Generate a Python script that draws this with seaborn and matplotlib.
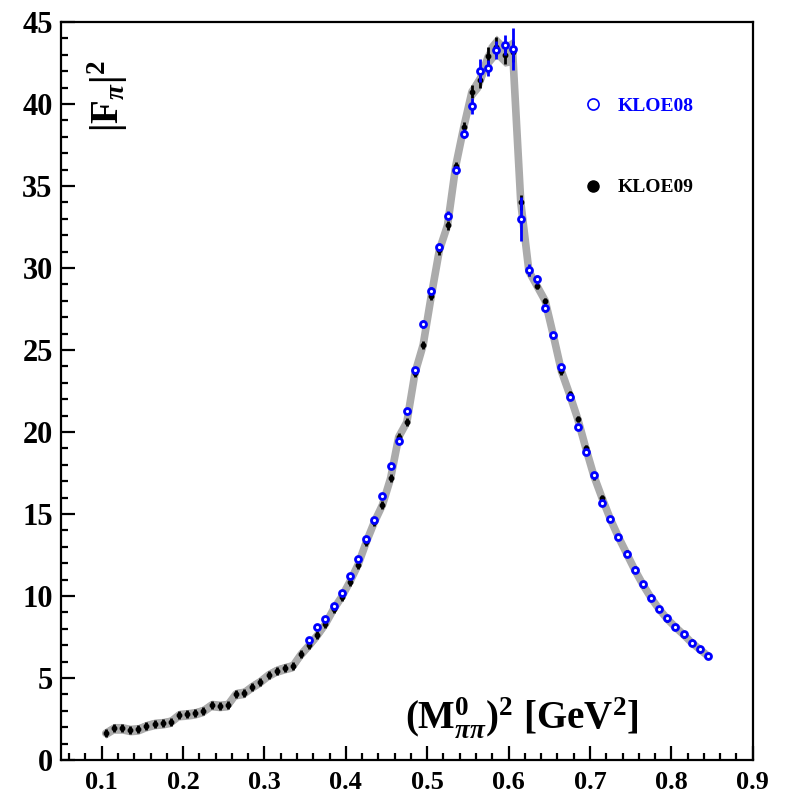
import numpy as np
import pandas as pd
import matplotlib
matplotlib.use("Agg")
import matplotlib.pyplot as plt
from matplotlib.ticker import MultipleLocator
from matplotlib.lines import Line2D
import seaborn as sns

# KLOE09 points (bin centres in GeV^2, |F_pi|^2, error)
x09 = [0.105, 0.115, 0.125, 0.135, 0.145, 0.155, 0.165, 0.175, 0.185, 0.195,
       0.205, 0.215, 0.225, 0.235, 0.245, 0.255, 0.265, 0.275, 0.285, 0.295,
       0.305, 0.315, 0.325, 0.335, 0.345, 0.355, 0.365, 0.375, 0.385, 0.395,
       0.405, 0.415, 0.425, 0.435, 0.445, 0.455, 0.465, 0.475, 0.485, 0.495,
       0.505, 0.515, 0.525, 0.535, 0.545, 0.555, 0.565, 0.575, 0.585, 0.595,
       0.605, 0.615, 0.625, 0.635, 0.645, 0.655, 0.665, 0.675, 0.685, 0.695,
       0.705, 0.715, 0.725, 0.735, 0.745, 0.755, 0.765, 0.775, 0.785, 0.795,
       0.805, 0.815, 0.825, 0.835, 0.845]
f09 = [1.63, 1.93, 1.93, 1.83, 1.87, 2.07, 2.20, 2.24, 2.34, 2.74,
       2.78, 2.85, 3.00, 3.35, 3.30, 3.35, 4.02, 4.10, 4.47, 4.78,
       5.18, 5.45, 5.60, 5.73, 6.44, 7.00, 7.60, 8.30, 9.20, 9.95,
       10.87, 11.90, 13.27, 14.50, 15.55, 17.17, 19.70, 20.60, 23.60, 25.30,
       28.30, 31.10, 32.60, 36.20, 38.60, 40.75, 41.46, 42.90, 43.50, 43.00,
       43.20, 34.00, 29.80, 28.90, 28.00, 25.90, 23.70, 22.30, 20.80, 19.00,
       17.30, 15.96, 14.70, 13.60, 12.60, 11.60, 10.70, 9.90, 9.20, 8.60,
       8.10, 7.65, 7.15, 6.75, 6.34]
e09 = [0.3] * 40 + [0.35] * 5 + [0.5, 0.6, 0.7, 0.7, 0.7,
       0.8, 0.6, 0.35] + [0.25] * 22

# KLOE08 points
x08 = [0.355, 0.365, 0.375, 0.385, 0.395, 0.405, 0.415, 0.425, 0.435, 0.445,
       0.455, 0.465, 0.475, 0.485, 0.495, 0.505, 0.515, 0.525, 0.535, 0.545,
       0.555, 0.565, 0.575, 0.585, 0.595, 0.605, 0.615, 0.625, 0.635, 0.645,
       0.655, 0.665, 0.675, 0.685, 0.695, 0.705, 0.715, 0.725, 0.735, 0.745,
       0.755, 0.765, 0.775, 0.785, 0.795, 0.805, 0.815, 0.825, 0.835, 0.845]
f08 = [7.30, 8.09, 8.60, 9.41, 10.20, 11.24, 12.26, 13.48, 14.66, 16.12,
       17.90, 19.45, 21.30, 23.80, 26.60, 28.60, 31.30, 33.20, 36.00, 38.20,
       39.88, 42.03, 42.20, 43.30, 43.60, 43.35, 33.00, 29.88, 29.30, 27.54,
       25.90, 23.98, 22.15, 20.30, 18.76, 17.38, 15.70, 14.70, 13.60, 12.56,
       11.59, 10.71, 9.90, 9.20, 8.64, 8.13, 7.66, 7.15, 6.75, 6.34]
e08 = [0.15] * 14 + [0.25] * 5 + [0.3, 0.5, 0.7, 0.5, 0.55, 0.6, 1.3, 1.35,
       0.35, 0.3, 0.25] + [0.15] * 20

band = pd.DataFrame({"x": x09, "y": f09, "e": e09})

sns.set_style("white")
plt.rcParams["font.family"] = ["Liberation Serif", "DejaVu Serif"]
plt.rcParams["font.weight"] = "bold"
plt.rcParams["mathtext.fontset"] = "custom"
plt.rcParams["mathtext.rm"] = "Liberation Serif:bold"
plt.rcParams["mathtext.bf"] = "Liberation Serif:bold"
plt.rcParams["mathtext.it"] = "Liberation Serif:italic"
plt.rcParams["text.color"] = "black"

fig = plt.figure(figsize=(7.89, 7.97), dpi=100)
ax = fig.add_axes([0.0773, 0.0464, 0.8767, 0.926])

# grey band through the KLOE09 points
ax.fill_between(band["x"], band["y"] - band["e"], band["y"] + band["e"],
                color="#ababab", lw=0, zorder=1)
sns.lineplot(data=band, x="x", y="y", ax=ax, color="#ababab", lw=5.5,
             zorder=1, legend=False)

ax.errorbar(x09, f09, yerr=np.array(e09) * 0.8, fmt="o", color="black",
            ms=3.2, elinewidth=2, capsize=0, zorder=2)
ax.errorbar(x08, f08, yerr=e08, fmt="o", color="#0000ff", mfc="white",
            mec="#0000ff", ms=4.3, mew=2.0, elinewidth=2, capsize=0, zorder=3)

ax.set_xlim(0.05, 0.9)
ax.set_ylim(0, 45)
ax.xaxis.set_major_locator(MultipleLocator(0.1))
ax.xaxis.set_minor_locator(MultipleLocator(0.02))
ax.yaxis.set_major_locator(MultipleLocator(5))
ax.yaxis.set_minor_locator(MultipleLocator(1))
ax.set_xticks([0.1, 0.2, 0.3, 0.4, 0.5, 0.6, 0.7, 0.8, 0.9])
ax.set_xticklabels(["0.1", "0.2", "0.3", "0.4", "0.5", "0.6", "0.7", "0.8", "0.9"])
ax.tick_params(which="major", direction="in", length=10, width=1.6,
               color="black", labelcolor="black", top=False, right=False,
               bottom=True, left=True)
ax.tick_params(which="minor", direction="in", length=5, width=1.6,
               color="black", top=False, right=False, bottom=True, left=True)
ax.tick_params(axis="x", labelsize=19, pad=8)
ax.tick_params(axis="y", labelsize=22, pad=6)
for lab in ax.get_xticklabels() + ax.get_yticklabels():
    lab.set_fontweight("bold")
for s in ax.spines.values():
    s.set_linewidth(1.6)
    s.set_color("black")
ax.set_xlabel("")
ax.set_ylabel("")

ax.text(0.068, 0.9, r"$|\mathrm{F}_{\pi}|^{2}$", transform=ax.transAxes,
        rotation=90, fontsize=28, ha="center", va="center")
ax.text(0.835, 0.058, r"$(\mathrm{M}^{0}_{\pi\pi})^{2}$ [GeV$^{2}$]",
        transform=ax.transAxes, fontsize=28, fontweight="bold",
        ha="right", va="center")

handles = [Line2D([], [], ls="none", marker="o", color="#0000ff",
                  mfc="white", ms=8, mew=1.2),
           Line2D([], [], ls="none", marker="o", color="black", ms=8)]
leg = ax.legend(handles, ["KLOE08", "KLOE09"], loc="upper left",
                bbox_to_anchor=(0.732, 0.922), frameon=False, fontsize=14,
                labelspacing=3.3, handlelength=0.8, handletextpad=0.9)
leg.get_texts()[0].set_color("#0000ff")
for t in leg.get_texts():
    t.set_fontweight("bold")

fig.savefig("out.png", dpi=100)
